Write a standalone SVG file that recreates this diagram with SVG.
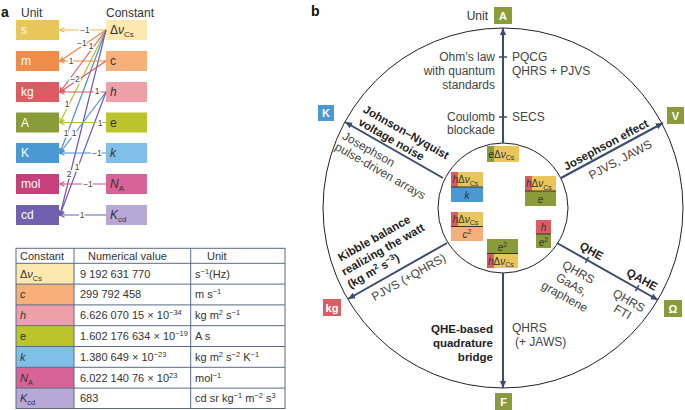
<svg xmlns="http://www.w3.org/2000/svg" width="685" height="410" viewBox="0 0 685 410">
<defs>
<style>
text{font-family:"Liberation Sans",Arial,sans-serif;}
.lbl{font-size:12px;fill:#333;}
.ut{font-size:12px;fill:#fff;}
.ct{font-size:12px;fill:#333;}
.num{font-size:8.5px;fill:#444;stroke:#fff;stroke-width:3px;paint-order:stroke;text-anchor:middle;}
.tb{font-size:11px;fill:#333;}
.ann{font-size:12px;fill:#444;}
.bold{font-size:11.5px;font-weight:bold;fill:#222;}
.ub{font-size:11px;font-weight:bold;fill:#fff;text-anchor:middle;}
.fr{font-size:10px;fill:#333;}
.arr{stroke:#3d4b6b;stroke-width:2;fill:none;}
.tick{stroke:#3d4b6b;stroke-width:1.5;}
.circ{fill:none;stroke:#222;stroke-width:1;}
.grid{stroke:#5a6a85;stroke-width:1;fill:none;}
.fl{stroke:#333;stroke-width:1;}
</style>
<marker id="mb" viewBox="0 0 10 10" refX="9" refY="5" markerWidth="8" markerHeight="8" markerUnits="userSpaceOnUse" orient="auto"><path d="M0,1 L9,5 L0,9 Z" fill="#3d4b6b"/></marker>
<marker id="m-s" viewBox="0 0 8 8" refX="7" refY="4" markerWidth="6" markerHeight="6" markerUnits="userSpaceOnUse" orient="auto"><path d="M1,1 L7,4 L1,7" fill="none" stroke="#eeb850" stroke-width="1.5"/></marker>
<marker id="m-m" viewBox="0 0 8 8" refX="7" refY="4" markerWidth="6" markerHeight="6" markerUnits="userSpaceOnUse" orient="auto"><path d="M1,1 L7,4 L1,7" fill="none" stroke="#f08848" stroke-width="1.5"/></marker>
<marker id="m-kg" viewBox="0 0 8 8" refX="7" refY="4" markerWidth="6" markerHeight="6" markerUnits="userSpaceOnUse" orient="auto"><path d="M1,1 L7,4 L1,7" fill="none" stroke="#e05868" stroke-width="1.5"/></marker>
<marker id="m-A" viewBox="0 0 8 8" refX="7" refY="4" markerWidth="6" markerHeight="6" markerUnits="userSpaceOnUse" orient="auto"><path d="M1,1 L7,4 L1,7" fill="none" stroke="#b4c030" stroke-width="1.5"/></marker>
<marker id="m-K" viewBox="0 0 8 8" refX="7" refY="4" markerWidth="6" markerHeight="6" markerUnits="userSpaceOnUse" orient="auto"><path d="M1,1 L7,4 L1,7" fill="none" stroke="#4a90d0" stroke-width="1.5"/></marker>
<marker id="m-mol" viewBox="0 0 8 8" refX="7" refY="4" markerWidth="6" markerHeight="6" markerUnits="userSpaceOnUse" orient="auto"><path d="M1,1 L7,4 L1,7" fill="none" stroke="#d05088" stroke-width="1.5"/></marker>
<marker id="m-cd" viewBox="0 0 8 8" refX="7" refY="4" markerWidth="6" markerHeight="6" markerUnits="userSpaceOnUse" orient="auto"><path d="M1,1 L7,4 L1,7" fill="none" stroke="#7058b0" stroke-width="1.5"/></marker>
</defs>
<rect width="685" height="410" fill="#fff"/>

<!-- Panel a -->
<text x="1" y="17" style="font-size:14px;font-weight:bold;fill:#111">a</text>
<text x="21" y="17" class="lbl">Unit</text>
<text x="106" y="17" class="lbl">Constant</text>

<g id="unit-s"><rect x="16" y="20" width="43" height="20" fill="#e8c65a"/><text x="21" y="34" class="ut">s</text></g>
<g id="unit-m"><rect x="16" y="51" width="43" height="20" fill="#f08c4a"/><text x="21" y="65" class="ut">m</text></g>
<g id="unit-kg"><rect x="16" y="82" width="43" height="20" fill="#dc5c64"/><text x="21" y="96" class="ut">kg</text></g>
<g id="unit-A"><rect x="16" y="112.5" width="43" height="20" fill="#8a9c3a"/><text x="21" y="126.5" class="ut">A</text></g>
<g id="unit-K"><rect x="16" y="143" width="43" height="20" fill="#4a98d4"/><text x="21" y="157" class="ut">K</text></g>
<g id="unit-mol"><rect x="16" y="174" width="43" height="20" fill="#c8407a"/><text x="21" y="188" class="ut">mol</text></g>
<g id="unit-cd"><rect x="16" y="205" width="43" height="20" fill="#7060b0"/><text x="21" y="219" class="ut">cd</text></g>

<g id="const-dnu"><rect x="106" y="20" width="41" height="20" fill="#fde9b0"/><text x="110" y="34" class="ct">Δ<tspan font-style="italic">ν</tspan><tspan font-size="8" dy="3">Cs</tspan></text></g>
<g id="const-c"><rect x="106" y="51" width="41" height="20" fill="#f8b07a"/><text x="110" y="65" class="ct">c</text></g>
<g id="const-h"><rect x="106" y="82" width="41" height="20" fill="#eea0a8"/><text x="110" y="96" class="ct" font-style="italic">h</text></g>
<g id="const-e"><rect x="106" y="112.5" width="41" height="20" fill="#bcc42c"/><text x="110" y="126.5" class="ct">e</text></g>
<g id="const-k"><rect x="106" y="143" width="41" height="20" fill="#80c0e8"/><text x="110" y="157" class="ct" font-style="italic">k</text></g>
<g id="const-NA"><rect x="106" y="174" width="41" height="20" fill="#d66496"/><text x="110" y="188" class="ct" font-style="italic">N<tspan font-size="8" dy="3" font-style="normal">A</tspan></text></g>
<g id="const-Kcd"><rect x="106" y="205" width="41" height="20" fill="#b8a8d8"/><text x="110" y="219" class="ct" font-style="italic">K<tspan font-size="8" dy="3" font-style="normal">cd</tspan></text></g>

<g id="connectors-a" stroke-width="1.2" fill="none">
<line x1="106" y1="30" x2="60" y2="30" stroke="#eeb850" marker-end="url(#m-s)"/>
<line x1="106" y1="30" x2="60" y2="61" stroke="#f08848" marker-end="url(#m-m)"/>
<line x1="106" y1="30" x2="60" y2="92" stroke="#e05868" marker-end="url(#m-kg)"/>
<line x1="106" y1="30" x2="60" y2="122.5" stroke="#b4c030" marker-end="url(#m-A)"/>
<line x1="106" y1="30" x2="60" y2="153" stroke="#4a90d0" marker-end="url(#m-K)"/>
<line x1="106" y1="30" x2="60" y2="215" stroke="#7058b0" marker-end="url(#m-cd)"/>
<line x1="106" y1="61" x2="60" y2="61" stroke="#f08848" marker-end="url(#m-m)"/>
<line x1="106" y1="61" x2="60" y2="92" stroke="#e05868" marker-end="url(#m-kg)"/>
<line x1="106" y1="92" x2="60" y2="92" stroke="#e05868" marker-end="url(#m-kg)"/>
<line x1="106" y1="92" x2="60" y2="153" stroke="#4a90d0" marker-end="url(#m-K)"/>
<line x1="106" y1="92" x2="60" y2="215" stroke="#7058b0" marker-end="url(#m-cd)"/>
<line x1="106" y1="122.5" x2="60" y2="122.5" stroke="#b4c030" marker-end="url(#m-A)"/>
<line x1="106" y1="153" x2="60" y2="153" stroke="#4a90d0" marker-end="url(#m-K)"/>
<line x1="106" y1="184" x2="60" y2="184" stroke="#d05088" marker-end="url(#m-mol)"/>
<line x1="106" y1="215" x2="60" y2="215" stroke="#7058b0" marker-end="url(#m-cd)"/>
</g>
<g id="exponents">
<text x="85" y="33" class="num">−1</text>
<text x="82" y="46" class="num">−1</text>
<text x="91" y="49" class="num">1</text>
<text x="71" y="64" class="num">1</text>
<text x="75" y="82" class="num">−2</text>
<text x="97" y="94" class="num">1</text>
<text x="67" y="107" class="num">1</text>
<text x="100" y="125.5" class="num">1</text>
<text x="66" y="136" class="num">1</text>
<text x="74" y="136" class="num">1</text>
<text x="97" y="156" class="num">−1</text>
<text x="77" y="170" class="num">1</text>
<text x="69" y="177" class="num">2</text>
<text x="88" y="187" class="num">−1</text>
<text x="82" y="218" class="num">1</text>
</g>

<!-- Table -->
<g id="table">
<rect x="16" y="263.3" width="58" height="20.8" fill="#fde9b0"/>
<rect x="16" y="284.1" width="58" height="20.8" fill="#f8b07a"/>
<rect x="16" y="304.9" width="58" height="20.8" fill="#eea0a8"/>
<rect x="16" y="325.7" width="58" height="20.8" fill="#bcc42c"/>
<rect x="16" y="346.5" width="58" height="20.8" fill="#80c0e8"/>
<rect x="16" y="367.3" width="58" height="20.8" fill="#d66496"/>
<rect x="16" y="388.1" width="58" height="20.4" fill="#b8a8d8"/>
<rect x="16" y="248.3" width="269" height="160.2" class="grid"/>
<path class="grid" d="M16,263.3H285M16,284.1H285M16,304.9H285M16,325.7H285M16,346.5H285M16,367.3H285M16,388.1H285M74,248.3V408.5M190.7,248.3V408.5"/>
<text x="20" y="259.5" class="tb">Constant</text>
<text x="88" y="259.5" class="tb">Numerical value</text>
<text x="207" y="259.5" class="tb">Unit</text>
<text x="20" y="277.5" class="tb">Δ<tspan font-style="italic">ν</tspan><tspan font-size="7.5" dy="3">Cs</tspan></text>
<text x="20" y="298.3" class="tb" font-style="italic">c</text>
<text x="20" y="319.1" class="tb" font-style="italic">h</text>
<text x="20" y="339.9" class="tb">e</text>
<text x="20" y="360.7" class="tb" font-style="italic">k</text>
<text x="20" y="381.5" class="tb" font-style="italic">N<tspan font-size="7.5" dy="3" font-style="normal">A</tspan></text>
<text x="20" y="402.3" class="tb" font-style="italic">K<tspan font-size="7.5" dy="3" font-style="normal">cd</tspan></text>
<text x="80" y="277.5" class="tb">9 192 631 770</text>
<text x="80" y="298.3" class="tb">299 792 458</text>
<text x="80" y="319.1" class="tb">6.626 070 15 × 10<tspan font-size="7.5" dy="-4">−34</tspan></text>
<text x="80" y="339.9" class="tb">1.602 176 634 × 10<tspan font-size="7.5" dy="-4">−19</tspan></text>
<text x="80" y="360.7" class="tb">1.380 649 × 10<tspan font-size="7.5" dy="-4">−23</tspan></text>
<text x="80" y="381.5" class="tb">6.022 140 76 × 10<tspan font-size="7.5" dy="-4">23</tspan></text>
<text x="80" y="402.3" class="tb">683</text>
<text x="195" y="277.5" class="tb">s<tspan font-size="7.5" dy="-4">−1</tspan><tspan dy="4">(Hz)</tspan></text>
<text x="195" y="298.3" class="tb">m s<tspan font-size="7.5" dy="-4">−1</tspan></text>
<text x="195" y="319.1" class="tb">kg m<tspan font-size="7.5" dy="-4">2</tspan><tspan dy="4"> s</tspan><tspan font-size="7.5" dy="-4">−1</tspan></text>
<text x="195" y="339.9" class="tb">A s</text>
<text x="195" y="360.7" class="tb">kg m<tspan font-size="7.5" dy="-4">2</tspan><tspan dy="4"> s</tspan><tspan font-size="7.5" dy="-4">−2</tspan><tspan dy="4"> K</tspan><tspan font-size="7.5" dy="-4">−1</tspan></text>
<text x="195" y="381.5" class="tb">mol<tspan font-size="7.5" dy="-4">−1</tspan></text>
<text x="195" y="402.3" class="tb">cd sr kg<tspan font-size="7.5" dy="-4">−1</tspan><tspan dy="4"> m</tspan><tspan font-size="7.5" dy="-4">−2</tspan><tspan dy="4"> s</tspan><tspan font-size="7.5" dy="-4">3</tspan></text>
</g>

<!-- Panel b -->
<text x="311" y="16" style="font-size:14px;font-weight:bold;fill:#111">b</text>
<circle cx="503" cy="208" r="180" class="circ"/>
<circle cx="503" cy="208" r="65" class="circ"/>
<text x="488" y="20" class="lbl" text-anchor="end">Unit</text>

<g id="node-A"><rect x="494" y="7" width="18" height="17" fill="#8a9c3a"/><text x="503" y="19.5" class="ub">A</text></g>
<g id="node-V"><rect x="667" y="107" width="17" height="17" fill="#8a9c3a"/><text x="675.5" y="119.5" class="ub">V</text></g>
<g id="node-Ohm"><rect x="664" y="300" width="18" height="17" fill="#8a9c3a"/><text x="673" y="312.5" class="ub">Ω</text></g>
<g id="node-F"><rect x="495" y="393" width="17" height="17" fill="#8a9c3a"/><text x="503.5" y="405.5" class="ub">F</text></g>
<g id="node-kg"><rect x="323" y="299" width="18" height="17" fill="#dc5c64"/><text x="332" y="311.5" class="ub">kg</text></g>
<g id="node-K"><rect x="318" y="105" width="16" height="16" fill="#4a98d4"/><text x="326" y="117" class="ub">K</text></g>

<g id="connectors">
<line x1="503" y1="143" x2="503" y2="28" class="arr" marker-end="url(#mb)"/>
<line x1="499" y1="57" x2="507" y2="57" class="tick"/>
<line x1="499" y1="117" x2="507" y2="117" class="tick"/>
<line x1="561" y1="178" x2="663" y2="123" class="arr" marker-end="url(#mb)"/>
<line x1="557" y1="243" x2="658" y2="300" class="arr" marker-end="url(#mb)"/>
<line x1="503" y1="273" x2="503" y2="388" class="arr" marker-end="url(#mb)"/>
<line x1="447" y1="243" x2="348" y2="299" class="arr" marker-end="url(#mb)"/>
<line x1="443" y1="178" x2="345" y2="122" class="arr" marker-end="url(#mb)"/>
<g transform="translate(557,243) rotate(29.4)">
<line x1="34.5" y1="-3.5" x2="34.5" y2="3.5" class="tick"/>
<line x1="92" y1="-3.5" x2="92" y2="3.5" class="tick"/>
</g>
</g>

<g id="labels-A">
<text x="495" y="61" class="ann" text-anchor="end">Ohm’s law</text>
<text x="495" y="75" class="ann" text-anchor="end">with quantum</text>
<text x="495" y="89" class="ann" text-anchor="end">standards</text>
<text x="495" y="121" class="ann" text-anchor="end">Coulomb</text>
<text x="495" y="134" class="ann" text-anchor="end">blockade</text>
<text x="512" y="61" class="ann">PQCG</text>
<text x="512" y="75" class="ann">QHRS + PJVS</text>
<text x="512" y="121" class="ann">SECS</text>
</g>
<g id="labels-V" transform="translate(561,178) rotate(-28.3)">
<text x="8" y="-4" class="bold">Josephson effect</text>
<text x="26" y="16" class="ann">PJVS, JAWS</text>
</g>
<g id="labels-Ohm" transform="translate(557,243) rotate(29.4)">
<text x="34" y="-6" class="bold" text-anchor="middle">QHE</text>
<text x="92" y="-6" class="bold" text-anchor="middle">QAHE</text>
<text x="33" y="19" class="ann" text-anchor="middle">QHRS</text>
<text x="33" y="33" class="ann" text-anchor="middle">GaAs,</text>
<text x="33" y="47" class="ann" text-anchor="middle">graphene</text>
<text x="91" y="19" class="ann" text-anchor="middle">QHRS</text>
<text x="91" y="32" class="ann" text-anchor="middle">FTI</text>
</g>
<g id="labels-F">
<text x="512" y="332" class="ann">QHRS</text>
<text x="515" y="346" class="ann">(+ JAWS)</text>
<text x="493" y="333" class="bold" text-anchor="end">QHE-based</text>
<text x="493" y="347" class="bold" text-anchor="end">quadrature</text>
<text x="493" y="361" class="bold" text-anchor="end">bridge</text>
</g>
<g id="labels-kg" transform="translate(348,299) rotate(-29.5)">
<text x="12" y="-36" class="bold">Kibble balance</text>
<text x="8" y="-22" class="bold">realizing the watt</text>
<text x="7" y="-8" class="bold">(kg m<tspan font-size="8" dy="-4">2</tspan><tspan dy="4"> s</tspan><tspan font-size="8" dy="-4">−3</tspan><tspan dy="4">)</tspan></text>
<text x="22" y="15" class="ann">PJVS (+QHRS)</text>
</g>
<g id="labels-K" transform="translate(345,122) rotate(29.7)">
<text x="10" y="-17.5" class="bold">Johnson–Nyquist</text>
<text x="12" y="-4" class="bold">voltage noise</text>
<text x="5" y="16" class="ann">Josephson</text>
<text x="4" y="29" class="ann">pulse-driven arrays</text>
</g>

<g id="frac-eDnu">
<rect x="487" y="146" width="7" height="16" fill="#8a9c3a"/><rect x="494" y="146" width="25" height="16" fill="#e8c65a"/>
<text x="488.5" y="157.5" class="fr"><tspan font-style="italic">e</tspan>Δ<tspan font-style="italic">ν</tspan><tspan font-size="7" dy="2.5">Cs</tspan></text>
</g>
<g id="frac-k">
<rect x="451" y="172" width="7" height="15" fill="#dc5c64"/><rect x="458" y="172" width="25" height="15" fill="#e8c65a"/><rect x="451" y="187" width="32" height="15" fill="#4a98d4"/>
<line x1="451" y1="187" x2="483" y2="187" class="fl"/>
<text x="452.5" y="183" class="fr"><tspan font-style="italic">h</tspan>Δ<tspan font-style="italic">ν</tspan><tspan font-size="7" dy="2.5">Cs</tspan></text>
<text x="467" y="198.5" class="fr" text-anchor="middle" font-style="italic">k</text>
</g>
<g id="frac-e">
<rect x="525" y="176" width="7" height="15" fill="#dc5c64"/><rect x="532" y="176" width="24" height="15" fill="#e8c65a"/><rect x="525" y="191" width="31" height="15" fill="#8a9c3a"/>
<line x1="525" y1="191" x2="556" y2="191" class="fl"/>
<text x="526" y="187" class="fr"><tspan font-style="italic">h</tspan>Δ<tspan font-style="italic">ν</tspan><tspan font-size="7" dy="2.5">Cs</tspan></text>
<text x="540.5" y="202.5" class="fr" text-anchor="middle" font-style="italic">e</text>
</g>
<g id="frac-c2">
<rect x="451" y="212" width="7" height="14.5" fill="#dc5c64"/><rect x="458" y="212" width="25" height="14.5" fill="#e8c65a"/><rect x="451" y="226.5" width="32" height="14.5" fill="#f4b07a"/>
<line x1="451" y1="226.5" x2="483" y2="226.5" class="fl"/>
<text x="452.5" y="222.5" class="fr"><tspan font-style="italic">h</tspan>Δ<tspan font-style="italic">ν</tspan><tspan font-size="7" dy="2.5">Cs</tspan></text>
<text x="467" y="238" class="fr" text-anchor="middle"><tspan font-style="italic">c</tspan><tspan font-size="7" dy="-4">2</tspan></text>
</g>
<g id="frac-h-e2">
<rect x="536" y="220" width="15" height="14" fill="#dc5c64"/><rect x="536" y="234" width="15" height="14" fill="#8a9c3a"/>
<line x1="536" y1="234" x2="551" y2="234" class="fl"/>
<text x="543.5" y="231" class="fr" text-anchor="middle" font-style="italic">h</text>
<text x="543.5" y="245.5" class="fr" text-anchor="middle"><tspan font-style="italic">e</tspan><tspan font-size="7" dy="-4">2</tspan></text>
</g>
<g id="frac-e2">
<rect x="487" y="239" width="31" height="14.5" fill="#8a9c3a"/><rect x="487" y="253.5" width="7" height="14.5" fill="#dc5c64"/><rect x="494" y="253.5" width="24" height="14.5" fill="#e8c65a"/>
<line x1="487" y1="253.5" x2="518" y2="253.5" class="fl"/>
<text x="502.5" y="250.5" class="fr" text-anchor="middle"><tspan font-style="italic">e</tspan><tspan font-size="7" dy="-4">2</tspan></text>
<text x="488" y="264.5" class="fr"><tspan font-style="italic">h</tspan>Δ<tspan font-style="italic">ν</tspan><tspan font-size="7" dy="2.5">Cs</tspan></text>
</g>
</svg>
